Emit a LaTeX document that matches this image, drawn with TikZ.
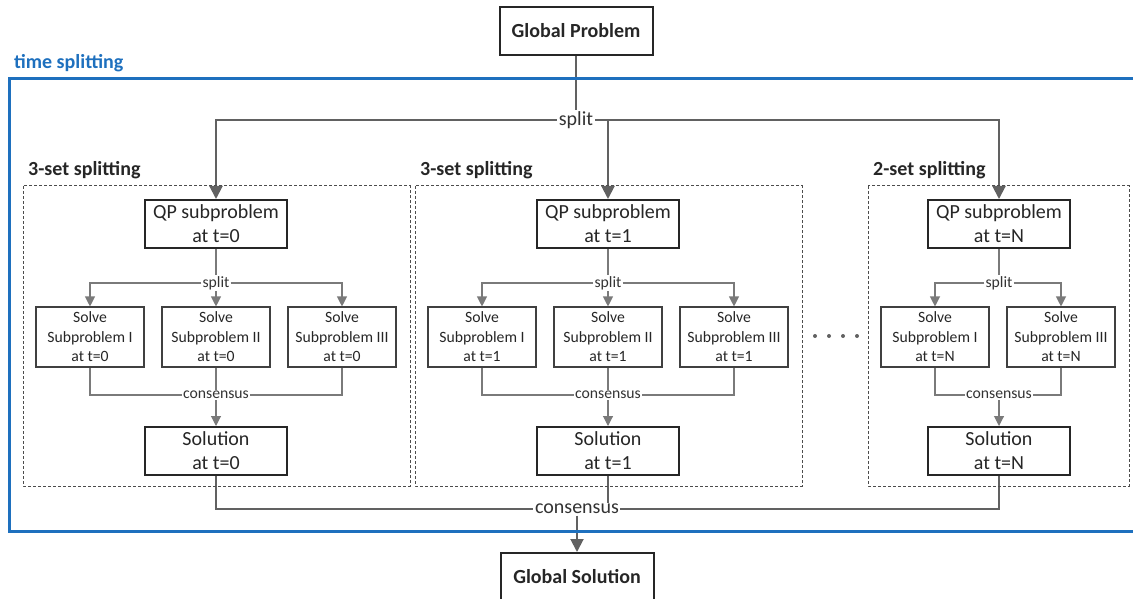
\documentclass[tikz,border=0pt]{standalone}
\usepackage{fontspec}
\setmainfont{Carlito}
\usepackage{xcolor}
\usetikzlibrary{arrows.meta,positioning,backgrounds}
\definecolor{frameblue}{RGB}{30,112,190}
\colorlet{wiregray}{black!62}
\colorlet{thingray}{black!52}
\colorlet{inkgray}{black!85}
\newcommand{\bigtxt}{\fontsize{20}{24}\selectfont}
\newcommand{\smalltxt}{\fontsize{15.7}{19.5}\selectfont}

\begin{document}
\begin{tikzpicture}[x=1pt,y=-1pt,
  qpbox/.style={draw=inkgray,line width=2pt,minimum width=142pt,minimum height=48pt,inner sep=0pt,align=center,font=\bigtxt,text=inkgray},
  subbox/.style={draw=black!75,line width=1.1pt,minimum width=108pt,minimum height=60pt,inner sep=0pt,align=center,font=\smalltxt,text=inkgray},
  globalbox/.style={qpbox,minimum width=153pt,font=\bigtxt\bfseries},
  setframe/.style={draw=black!70,line width=1pt,dash pattern=on 3pt off 2pt},
  settitle/.style={anchor=west,inner sep=0pt,font=\bigtxt\bfseries,text=inkgray},
  biglabel/.style={fill=white,inner sep=1.5pt,font=\bigtxt,text=black!80},
  smalllabel/.style={fill=white,inner sep=1pt,font=\smalltxt,text=black!80},
  mainwire/.style={draw=wiregray,line width=2pt},
  mainarrow/.style={mainwire,-{Triangle[length=13pt,width=13pt]}},
  thinwire/.style={draw=thingray,line width=1.1pt},
  thinarrow/.style={thinwire,-{Triangle[length=10pt,width=10pt]}}]
\useasboundingbox (0,0) rectangle (1133,599);
\clip (0,0) rectangle (1133,599);
% outer time splitting frame, open to the right
\draw[frameblue,line width=3pt] (1145,79) -| (9,531) -- (1145,531);
\node[settitle,text=frameblue] (tstitle) at (14,63) {time splitting};
\node[globalbox] (gp) at (576,31) {Global Problem};
\node[biglabel] (split) at (576,120) {split};
% three-set groups at t=0 and t=1
\foreach \gx/\t in {216/0,608/1}{
  \draw[setframe] ({\gx-193},186) rectangle ({\gx+194},486);
  \node[settitle] (title\t) at ({\gx-188},170) {3-set splitting};
  \node[qpbox] (qp\t) at (\gx,224) {QP subproblem\\at t=\t};
  \node[smalllabel] (sp\t) at (\gx,283) {split};
  \node[subbox] (a\t) at ({\gx-126},337) {Solve\\Subproblem I\\at t=\t};
  \node[subbox] (b\t) at (\gx,337) {Solve\\Subproblem II\\at t=\t};
  \node[subbox] (c\t) at ({\gx+126},337) {Solve\\Subproblem III\\at t=\t};
  \node[smalllabel] (cs\t) at (\gx,395) {consensus};
  \node[qpbox] (sol\t) at (\gx,451) {Solution\\at t=\t};
}
% two-set group at t=N
\draw[setframe] (868,186) rectangle (1129,486);
\node[settitle] (titleN) at (873,170) {2-set splitting};
\node[qpbox] (qpN) at (999,224) {QP subproblem\\at t=N};
\node[smalllabel] (spN) at (999,283) {split};
\node[subbox] (aN) at (935,337) {Solve\\Subproblem I\\at t=N};
\node[subbox] (cN) at (1061,337) {Solve\\Subproblem III\\at t=N};
\node[smalllabel] (csN) at (999,395) {consensus};
\node[qpbox] (solN) at (999,451) {Solution\\at t=N};
\foreach \dx in {815,829,843,857} \fill[wiregray] (\dx,336) circle (2pt);
\node[biglabel] (cons) at (577,509) {consensus};
\node[globalbox] (gs) at (577,577) {Global Solution};
% connectors behind the labels
\begin{scope}[on background layer]
\draw[mainwire] (gp) -- (split);
\foreach \t in {0,1,N} \draw[mainarrow] (split) -| (qp\t);
\foreach \t in {0,1}{
  \draw[thinwire] (qp\t) -- (sp\t);
  \draw[thinarrow] (sp\t) -| (a\t); \draw[thinarrow] (sp\t) -- (b\t); \draw[thinarrow] (sp\t) -| (c\t);
  \draw[thinwire] (a\t) |- (cs\t); \draw[thinwire] (b\t) -- (cs\t); \draw[thinwire] (c\t) |- (cs\t);
  \draw[thinarrow] (cs\t) -- (sol\t);
}
\draw[thinwire] (qpN) -- (spN);
\draw[thinarrow] (spN) -| (aN); \draw[thinarrow] (spN) -| (cN);
\draw[thinwire] (aN) |- (csN); \draw[thinwire] (cN) |- (csN);
\draw[thinarrow] (csN) -- (solN);
\foreach \t in {0,1,N} \draw[mainwire] (sol\t) |- (cons);
\draw[mainarrow] (cons) -- (gs);
\end{scope}
\end{tikzpicture}
\end{document}
